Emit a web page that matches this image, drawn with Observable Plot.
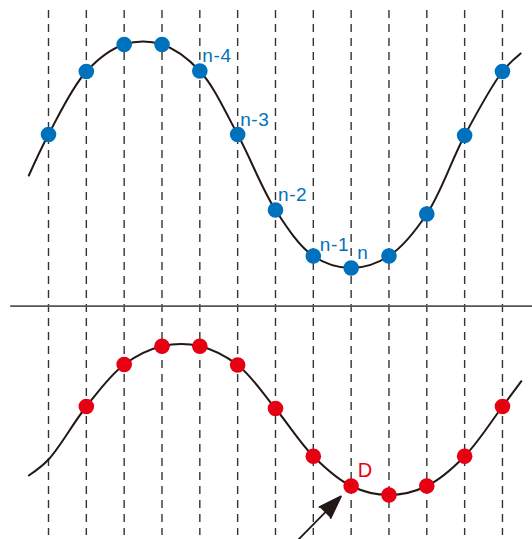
<!DOCTYPE html>
<html>
<head>
<meta charset="utf-8">
<script src="https://cdn.jsdelivr.net/npm/d3@7"></script>
<script src="https://cdn.jsdelivr.net/npm/@observablehq/plot@0.6"></script>
<style>
  html, body { margin: 0; padding: 0; background: #fff; overflow: hidden; }
  #chart svg text { letter-spacing: 0.6px; }
</style>
</head>
<body>
<div id="chart"></div>
<script>
// sample positions (dashed sampling lines)
const sampleIdx = [0, 1, 2, 3, 4, 5, 6, 7, 8, 9, 10, 11, 12];

// top (blue) sampled signal
const blueIdx = [0, 1, 2, 3, 4, 5, 6, 7, 8, 9, 10, 11, 12];
const blueVal = [405, 468, 495, 495, 468.5, 405, 329.5, 283.5, 271.5, 283.5, 325.5, 404, 468];
// top continuous curve knots (ends)
const topCurveIdx = [-0.52, 0, 1, 2, 3, 4, 5, 6, 7, 8, 9, 10, 11, 12, 12.48];
const topCurveVal = [364, 405, 468, 495, 495, 468.5, 405, 329.5, 283.5, 271.5, 283.5, 325.5, 404, 468, 486];

// bottom (red) sampled signal
const redIdx = [1, 2, 3, 4, 5, 6, 7, 8, 9, 10, 11, 12];
const redVal = [133, 175, 193.3, 193.3, 174.5, 131, 83.3, 53.5, 44.5, 53.5, 83.3, 133];
// bottom continuous curve knots
const botCurveIdx = [-0.52, 0, 1, 2, 3, 4, 5, 6, 7, 8, 9, 10, 11, 12, 12.5];
const botCurveVal = [64, 80, 133, 175, 193.3, 193.3, 174.5, 131, 83.3, 53.5, 44.5, 53.5, 83.3, 133, 158.3];

// labels
const labelIdxA = [4, 5, 6];
const labelTextA = ["n-4", "n-3", "n-2"];
const labelIdxB = [7];
const labelTextB = ["n-1"];
const labelIdxC = [8];
const labelTextC = ["n"];
const dIdx = 8;
const dText = "D";

// divider between the two panels
const dividerVal = 233.3;
const dividerFrom = -1.0;

// arrow start (off the bottom edge)
const arrowStartIdx = 6.556;
const arrowStartVal = -2;

const BLUE = "#0071BC";
const RED = "#E60012";
const INK = "#231815";

const topCurve = topCurveIdx.map((x, i) => ({x, y: topCurveVal[i]}));
const botCurve = botCurveIdx.map((x, i) => ({x, y: botCurveVal[i]}));
const blue = blueIdx.map((x, i) => ({x, y: blueVal[i]}));
const red = redIdx.map((x, i) => ({x, y: redVal[i]}));
const blueAt = (k) => blueVal[blueIdx.indexOf(k)];
const redAt = (k) => redVal[redIdx.indexOf(k)];
const labA = labelIdxA.map((x, i) => ({x, y: blueAt(x), t: labelTextA[i]}));
const labB = labelIdxB.map((x, i) => ({x, y: blueAt(x), t: labelTextB[i]}));
const labC = labelIdxC.map((x, i) => ({x, y: blueAt(x), t: labelTextC[i]}));
const labD = [{x: dIdx, y: redAt(dIdx), t: dText}];
const arrowData = [{x1: arrowStartIdx, y1: arrowStartVal, x2: dIdx, y2: redAt(dIdx)}];

const font = "Liberation Sans, Arial, Helvetica, sans-serif";

const chart = Plot.plot({
  width: 532,
  height: 539,
  margin: 0,
  x: {domain: [-1.269, 12.794], axis: null},
  y: {domain: [0, 539], axis: null},
  style: {background: "#fff", fontFamily: font},
  marks: [
    Plot.ruleX(sampleIdx, {x: d => d, y1: 529, y2: 4, stroke: "#333", strokeWidth: 1.4, strokeDasharray: "8,6"}),
    Plot.ruleY([dividerVal], {x1: dividerFrom, x2: 12.794, stroke: "#555", strokeWidth: 1.8}),
    Plot.line(topCurve, {x: "x", y: "y", curve: "catmull-rom", stroke: INK, strokeWidth: 2}),
    Plot.line(botCurve, {x: "x", y: "y", curve: "catmull-rom", stroke: INK, strokeWidth: 2}),
    Plot.dot(blue, {x: "x", y: "y", r: 7.8, fill: BLUE, stroke: "none"}),
    Plot.dot(red, {x: "x", y: "y", r: 7.8, fill: RED, stroke: "none"}),
    Plot.text(labA, {x: "x", y: "y", text: "t", fill: BLUE, fontSize: 19, textAnchor: "start", lineAnchor: "bottom", dx: 2.5, dy: -9}),
    Plot.text(labB, {x: "x", y: "y", text: "t", fill: BLUE, fontSize: 19, textAnchor: "start", lineAnchor: "bottom", dx: 6.5, dy: -4.8}),
    Plot.text(labC, {x: "x", y: "y", text: "t", fill: BLUE, fontSize: 19, textAnchor: "start", lineAnchor: "bottom", dx: 6.2, dy: -9.5}),
    Plot.text(labD, {x: "x", y: "y", text: "t", fill: RED, fontSize: 20, textAnchor: "start", lineAnchor: "bottom", dx: 6.5, dy: -9.5}),
    Plot.arrow(arrowData, {x1: "x1", y1: "y1", x2: "x2", y2: "y2", stroke: INK, fill: INK, strokeWidth: 1.8, headLength: 20, headAngle: 38, insetEnd: 14.5})
  ]
});
document.getElementById("chart").appendChild(chart);
</script>
</body>
</html>
